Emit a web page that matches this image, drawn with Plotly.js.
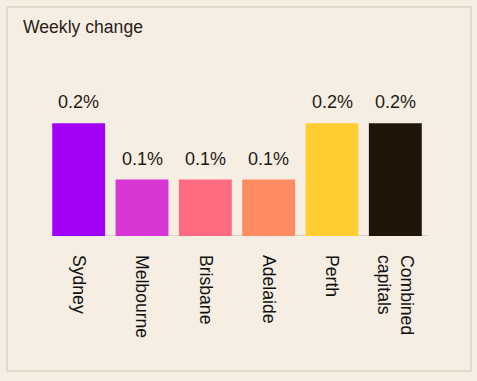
<!DOCTYPE html>
<html><head><meta charset="utf-8">
<script src="https://cdn.plot.ly/plotly-3.0.1.min.js"></script>
<style>html,body{margin:0;padding:0;background:#f6eee3;}#chart{width:477px;height:381px;}</style>
</head><body><div id="chart"></div>
<script>
const categories = ["Sydney", "Melbourne", "Brisbane", "Adelaide", "Perth", "Combined capitals"];
const tickLabels = ["Sydney", "Melbourne", "Brisbane", "Adelaide", "Perth", "Combined<br>capitals"];
const weeklyChange = [0.2, 0.1, 0.1, 0.1, 0.2, 0.2];
const valueLabels = ["0.2%", "0.1%", "0.1%", "0.1%", "0.2%", "0.2%"];
const barColors = ["#a300f7", "#d936d6", "#ff6b81", "#ff8b63", "#ffcd30", "#1f1609"];

const L = 47, R = 50, T = 95, B = 145, W = 477, H = 381;
const pw = W - L - R, ph = H - T - B;
const px = v => (v - L) / pw;
const py = v => (H - B - v) / ph;

const trace = {
  type: "bar",
  x: categories,
  y: weeklyChange,
  marker: {color: barColors, line: {width: 0}},
  hoverinfo: "skip"
};

const annotations = categories.map((c, i) => ({
  x: c, y: weeklyChange[i], xref: "x", yref: "y",
  text: valueLabels[i], showarrow: false,
  yanchor: "bottom", yshift: 9,
  font: {family: "Liberation Sans, Arial, sans-serif", size: 18, color: "#1f1a14"}
}));

const layout = {
  width: W, height: H,
  paper_bgcolor: "#f6eee3",
  plot_bgcolor: "#f6eee3",
  margin: {l: L, r: R, t: T, b: B, pad: 0},
  showlegend: false,
  bargap: 0.165,
  title: {
    text: "Weekly change",
    x: 23 / W, xanchor: "left", xref: "container",
    y: 1 - 27 / H, yanchor: "middle", yref: "container",
    font: {family: "Liberation Sans, Arial, sans-serif", size: 17.6, color: "#2a2218"}
  },
  xaxis: {
    type: "category",
    tickvals: categories,
    ticktext: tickLabels,
    tickangle: 90,
    ticks: "",
    ticklabelstandoff: 18,
    showgrid: false,
    zeroline: false,
    showline: false,
    tickfont: {family: "Liberation Sans, Arial, sans-serif", size: 17.6, color: "#111111"}
  },
  yaxis: {
    range: [0, 0.25],
    visible: false,
    showgrid: false,
    zeroline: false
  },
  annotations: annotations,
  shapes: [
    {type: "rect", xref: "paper", yref: "paper",
     x0: px(7), x1: px(471), y0: py(371), y1: py(7),
     line: {color: "#e4dacb", width: 2}, fillcolor: "rgba(0,0,0,0)", layer: "below"},
    {type: "line", xref: "paper", yref: "y",
     x0: px(52), x1: px(428), y0: 0, y1: 0,
     line: {color: "#d9d3ca", width: 2}, layer: "below"}
  ]
};

Plotly.newPlot("chart", [trace], layout, {displayModeBar: false, staticPlot: true});
</script>
</body></html>
